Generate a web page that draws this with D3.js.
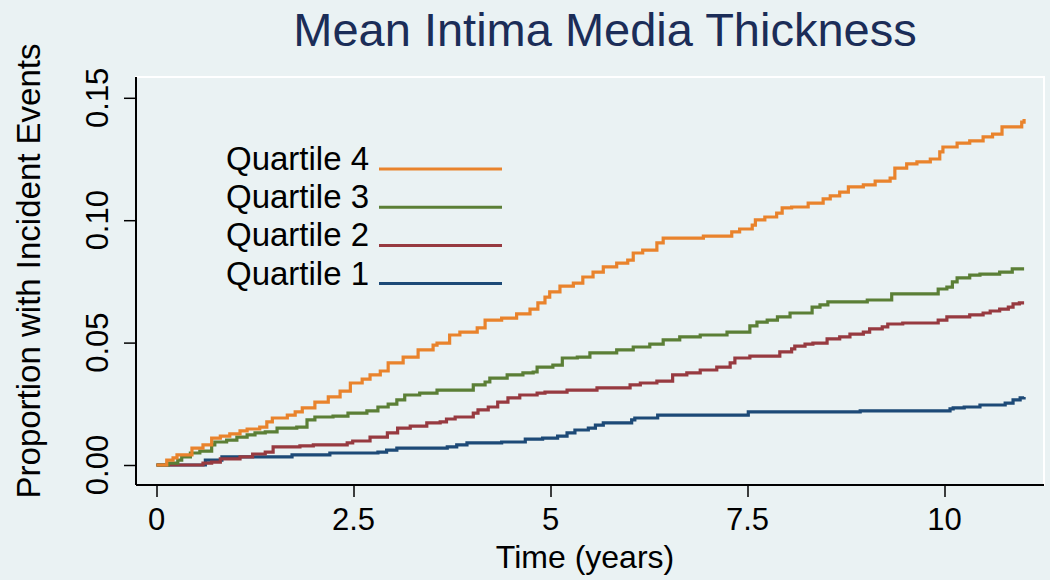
<!DOCTYPE html>
<html>
<head>
<meta charset="utf-8">
<script src="https://cdn.jsdelivr.net/npm/d3@7"></script>
<style>
  html, body { margin: 0; padding: 0; background: #eaf2f3; }
  svg { display: block; font-family: "Liberation Sans", Arial, Helvetica, sans-serif; }
</style>
</head>
<body>
<svg id="chart" width="1050" height="580"></svg>
<script>
// Chart text
const chartTitle = "Mean Intima Media Thickness";
const xTitle = "Time (years)";
const yTitle = "Proportion with Incident Events";

// Tick values and labels
const xTicks = [0, 2.5, 5, 7.5, 10];
const xTickLabels = ["0", "2.5", "5", "7.5", "10"];
const yTicks = [0, 0.05, 0.10, 0.15];
const yTickLabels = ["0.00", "0.05", "0.10", "0.15"];

// Series names (legend order, top to bottom)
const seriesNames = ["Quartile 4", "Quartile 3", "Quartile 2", "Quartile 1"];

// Cumulative incidence step points [time, proportion]
const quartile1 = [
  [0, 0], [0.62, 0.0020], [0.83, 0.0033], [1.72, 0.0041], [2.20, 0.0049],
  [2.81, 0.0053], [2.92, 0.0061], [3.05, 0.0069], [3.69, 0.0074], [3.81, 0.0082],
  [3.94, 0.0090], [4.38, 0.0094], [4.68, 0.0106], [4.90, 0.0110], [5.09, 0.0118],
  [5.21, 0.0131], [5.31, 0.0143], [5.48, 0.0151], [5.57, 0.0163], [5.67, 0.0172],
  [6.03, 0.0184], [6.07, 0.0192], [6.36, 0.0204], [7.51, 0.0217], [8.93, 0.0221],
  [10.07, 0.0229], [10.11, 0.0233], [10.25, 0.0237], [10.45, 0.0245], [10.77, 0.0253],
  [10.87, 0.0266], [10.96, 0.0274], [11.01, 0.0278]
];
const quartile2 = [
  [0, 0], [0.59, 0.0008], [0.70, 0.0012], [0.81, 0.0025], [1.06, 0.0033],
  [1.22, 0.0045], [1.38, 0.0053], [1.48, 0.0074], [1.82, 0.0078], [1.99, 0.0082],
  [2.42, 0.0090], [2.49, 0.0098], [2.71, 0.0114], [2.93, 0.0131], [3.06, 0.0151],
  [3.22, 0.0159], [3.43, 0.0172], [3.60, 0.0176], [3.68, 0.0188], [3.79, 0.0196],
  [4.02, 0.0212], [4.08, 0.0225], [4.21, 0.0237], [4.33, 0.0257], [4.46, 0.0274],
  [4.61, 0.0286], [4.83, 0.0294], [4.93, 0.0298], [5.21, 0.0306], [5.59, 0.0315],
  [6.01, 0.0327], [6.14, 0.0335], [6.35, 0.0343], [6.55, 0.0368], [6.73, 0.0376],
  [6.90, 0.0388], [7.11, 0.0400], [7.28, 0.0417], [7.34, 0.0437], [7.53, 0.0445],
  [7.91, 0.0462], [8.06, 0.0474], [8.10, 0.0486], [8.23, 0.0494], [8.33, 0.0498],
  [8.51, 0.0515], [8.67, 0.0523], [8.80, 0.0535], [8.97, 0.0543], [9.05, 0.0556],
  [9.21, 0.0564], [9.28, 0.0576], [9.47, 0.0580], [9.92, 0.0592], [10.03, 0.0605],
  [10.32, 0.0613], [10.49, 0.0621], [10.58, 0.0629], [10.70, 0.0637], [10.81, 0.0645],
  [10.87, 0.0658], [10.95, 0.0662], [11.01, 0.0662]
];
const quartile3 = [
  [0, 0], [0.15, 0.0008], [0.27, 0.0020], [0.32, 0.0033], [0.43, 0.0049],
  [0.55, 0.0057], [0.70, 0.0082], [0.74, 0.0094], [0.89, 0.0102], [1.02, 0.0114],
  [1.15, 0.0123], [1.25, 0.0131], [1.38, 0.0135], [1.53, 0.0151], [1.78, 0.0155],
  [1.91, 0.0184], [2.01, 0.0196], [2.24, 0.0200], [2.43, 0.0212], [2.67, 0.0221],
  [2.81, 0.0237], [2.94, 0.0249], [3.05, 0.0266], [3.15, 0.0286], [3.34, 0.0294],
  [3.56, 0.0306], [4.02, 0.0327], [4.17, 0.0339], [4.23, 0.0355], [4.45, 0.0368],
  [4.65, 0.0376], [4.78, 0.0380], [4.83, 0.0400], [5.03, 0.0408], [5.15, 0.0437],
  [5.34, 0.0441], [5.50, 0.0458], [5.84, 0.0470], [6.05, 0.0482], [6.26, 0.0494],
  [6.43, 0.0511], [6.64, 0.0523], [6.90, 0.0531], [7.24, 0.0543], [7.53, 0.0568],
  [7.62, 0.0584], [7.75, 0.0592], [7.88, 0.0605], [8.04, 0.0621], [8.32, 0.0645],
  [8.42, 0.0654], [8.52, 0.0666], [9.02, 0.0674], [9.33, 0.0699], [9.92, 0.0719],
  [10.03, 0.0727], [10.10, 0.0748], [10.16, 0.0764], [10.32, 0.0776], [10.45, 0.0780],
  [10.70, 0.0788], [10.86, 0.0801], [11.01, 0.0801]
];
const quartile4 = [
  [0, 0], [0.13, 0.0020], [0.21, 0.0029], [0.26, 0.0041], [0.45, 0.0069],
  [0.59, 0.0082], [0.70, 0.0110], [0.81, 0.0118], [0.93, 0.0127], [1.06, 0.0139],
  [1.15, 0.0147], [1.31, 0.0155], [1.40, 0.0176], [1.47, 0.0192], [1.66, 0.0204],
  [1.76, 0.0217], [1.85, 0.0233], [2.01, 0.0257], [2.18, 0.0278], [2.33, 0.0302],
  [2.46, 0.0335], [2.61, 0.0351], [2.71, 0.0368], [2.84, 0.0384], [2.94, 0.0417],
  [3.13, 0.0441], [3.32, 0.0470], [3.51, 0.0490], [3.56, 0.0498], [3.72, 0.0531],
  [3.85, 0.0543], [4.07, 0.0560], [4.17, 0.0592], [4.38, 0.0600], [4.57, 0.0617],
  [4.74, 0.0637], [4.84, 0.0662], [4.93, 0.0686], [4.99, 0.0707], [5.12, 0.0731],
  [5.29, 0.0743], [5.41, 0.0768], [5.54, 0.0788], [5.67, 0.0809], [5.84, 0.0825],
  [5.98, 0.0837], [6.05, 0.0866], [6.17, 0.0878], [6.35, 0.0907], [6.43, 0.0927],
  [6.94, 0.0935], [7.30, 0.0952], [7.40, 0.0964], [7.56, 0.0980], [7.60, 0.1001],
  [7.72, 0.1013], [7.87, 0.1029], [7.94, 0.1050], [8.06, 0.1054], [8.27, 0.1070],
  [8.46, 0.1087], [8.55, 0.1099], [8.67, 0.1115], [8.78, 0.1136], [8.97, 0.1144],
  [9.12, 0.1160], [9.31, 0.1172], [9.37, 0.1213], [9.52, 0.1230], [9.65, 0.1238],
  [9.82, 0.1250], [9.94, 0.1279], [9.98, 0.1299], [10.16, 0.1315], [10.32, 0.1324],
  [10.49, 0.1340], [10.61, 0.1352], [10.73, 0.1381], [10.98, 0.1401], [11.01, 0.1413]
];

// Series colours (Quartile 4 .. Quartile 1)
const seriesColors = ["#e9832c", "#5b7f36", "#973a40", "#1d4a77"];

// Build series list (drawn Q1 first, Q4 on top)
const series = [
  { name: seriesNames[3], data: quartile1, color: seriesColors[3] },
  { name: seriesNames[2], data: quartile2, color: seriesColors[2] },
  { name: seriesNames[1], data: quartile3, color: seriesColors[1] },
  { name: seriesNames[0], data: quartile4, color: seriesColors[0] }
];

const svg = d3.select('#chart');

// Plot region box
const plot = { left: 136, right: 1044, top: 77, bottom: 485 };

// Scales
const x = d3.scaleLinear().domain([0, 10]).range([156.5, 944.5]);
const y = d3.scaleLinear().domain([0, 0.15]).range([465, 97.8]);

// Background
svg.append('rect')
    .attr('width', 1050)
    .attr('height', 580)
    .attr('fill', '#eaf2f3');

// White outline of plot region
svg.append('rect')
    .attr('x', plot.left)
    .attr('y', plot.top)
    .attr('width', plot.right - plot.left)
    .attr('height', plot.bottom - plot.top)
    .attr('fill', 'none')
    .attr('stroke', '#ffffff')
    .attr('stroke-width', 2);

// Title
svg.append('text')
    .attr('x', 605)
    .attr('y', 46)
    .attr('text-anchor', 'middle')
    .attr('font-size', '47px')
    .attr('fill', '#1b2d58')
    .text(chartTitle);

// Curves
const line = d3.line()
    .x(d => x(d[0]))
    .y(d => y(d[1]))
    .curve(d3.curveStepAfter);

svg.selectAll('.curve')
    .data(series)
    .enter()
    .append('path')
    .attr('class', 'curve')
    .attr('d', d => line(d.data))
    .attr('fill', 'none')
    .attr('stroke', d => d.color)
    .attr('stroke-width', 3.2);

// X axis
const xAxis = svg.append('g')
    .attr('transform', `translate(0,${plot.bottom})`)
    .call(d3.axisBottom(x).tickValues(xTicks).tickSize(12).tickFormat(''));
xAxis.select('.domain').remove();
xAxis.selectAll('.tick line').attr('stroke', '#000').attr('stroke-width', 1.5);

svg.selectAll('.x-label')
    .data(xTicks)
    .enter()
    .append('text')
    .attr('class', 'x-label')
    .attr('x', d => x(d))
    .attr('y', 530)
    .attr('text-anchor', 'middle')
    .attr('font-size', '31px')
    .attr('fill', '#000')
    .text((d, i) => xTickLabels[i]);

// Y axis
const yAxis = svg.append('g')
    .attr('transform', `translate(${plot.left},0)`)
    .call(d3.axisLeft(y).tickValues(yTicks).tickSize(12).tickFormat(''));
yAxis.select('.domain').remove();
yAxis.selectAll('.tick line').attr('stroke', '#000').attr('stroke-width', 1.5);

svg.selectAll('.y-label')
    .data(yTicks)
    .enter()
    .append('text')
    .attr('class', 'y-label')
    .attr('transform', d => `translate(108,${y(d)}) rotate(-90)`)
    .attr('text-anchor', 'middle')
    .attr('font-size', '31px')
    .attr('fill', '#000')
    .text((d, i) => yTickLabels[i]);

// Axis lines
svg.append('line')
    .attr('x1', plot.left).attr('x2', plot.left)
    .attr('y1', plot.top).attr('y2', plot.bottom)
    .attr('stroke', '#000').attr('stroke-width', 2);
svg.append('line')
    .attr('x1', plot.left).attr('x2', plot.right)
    .attr('y1', plot.bottom).attr('y2', plot.bottom)
    .attr('stroke', '#000').attr('stroke-width', 2);

// Axis titles
svg.append('text')
    .attr('x', 585)
    .attr('y', 568)
    .attr('text-anchor', 'middle')
    .attr('font-size', '32px')
    .attr('fill', '#000')
    .text(xTitle);

svg.append('text')
    .attr('transform', 'translate(40,271) rotate(-90)')
    .attr('text-anchor', 'middle')
    .attr('font-size', '33px')
    .attr('fill', '#000')
    .text(yTitle);

// Legend
const legend = svg.append('g');
seriesNames.forEach((name, i) => {
    const rowY = 169 + i * 38.2;
    legend.append('text')
        .attr('x', 226)
        .attr('y', rowY + 1)
        .attr('font-size', '33px')
        .attr('fill', '#000')
        .text(name);
    legend.append('line')
        .attr('x1', 379).attr('x2', 502)
        .attr('y1', rowY).attr('y2', rowY)
        .attr('stroke', seriesColors[i])
        .attr('stroke-width', 3);
});
</script>
</body>
</html>
